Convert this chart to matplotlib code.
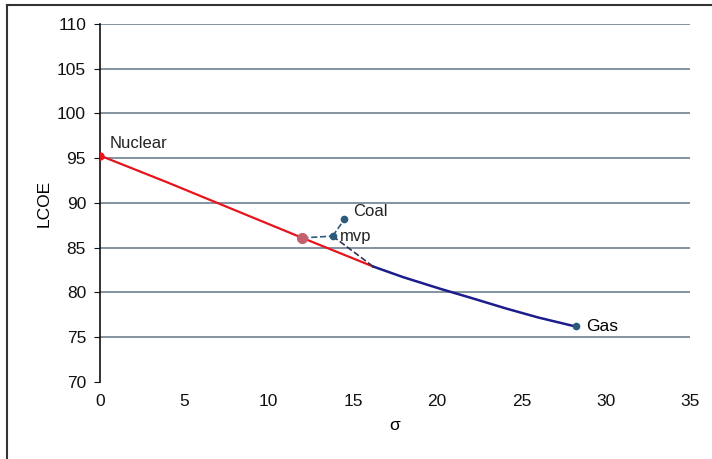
import matplotlib
matplotlib.use("Agg")
import matplotlib.pyplot as plt
from matplotlib.lines import Line2D

plt.rcParams['font.family'] = ['Liberation Sans', 'DejaVu Sans']

# frontier segment with nuclear in the mix (red) and the gas-heavy part (blue)
red_sigma = [0.0, 4.0, 8.0, 12.0, 16.2]
red_lcoe = [95.3, 92.3, 89.2, 86.1, 82.9]
blue_sigma = [16.2, 18.0, 20.2, 22.0, 24.1, 26.0, 28.2]
blue_lcoe = [82.9, 81.7, 80.4, 79.4, 78.2, 77.2, 76.2]

# single technologies and portfolio points
nuclear = (0.0, 95.3)
coal = (14.5, 88.2)
gas = (28.2, 76.2)
mvp = (13.8, 86.3)
current_mix = (12.0, 86.1)
frontier_join = (16.2, 82.9)

y_ticks = [70, 75, 80, 85, 90, 95, 100, 105, 110]
x_ticks = [0, 5, 10, 15, 20, 25, 30, 35]

fig = plt.figure(figsize=(7.12, 4.59), dpi=100)
ax = fig.add_axes([0.1404, 0.1678, 0.829, 0.7799])

grid_c = '#7a8a98'
for y in y_ticks[1:]:
    ax.axhline(y, color=grid_c, lw=1.3, zorder=0)

dash_c = '#2e5d80'
ax.plot([current_mix[0], mvp[0]], [current_mix[1], mvp[1]], ls='--', color=dash_c, lw=1.2, zorder=2)
ax.plot([mvp[0], coal[0]], [mvp[1], coal[1]], ls='--', color=dash_c, lw=1.2, zorder=2)
ax.plot([mvp[0], frontier_join[0]], [mvp[1], frontier_join[1]], ls='--', color='#333355', lw=1.2, zorder=4)

ax.plot(red_sigma, red_lcoe, color='#e8141c', lw=1.6, zorder=3)
ax.plot(blue_sigma, blue_lcoe, color='#1c1c8c', lw=1.8, zorder=3)

ax.plot(*nuclear, 'o', color='#e8141c', ms=5, zorder=5)
ax.plot(*current_mix, 'o', color='#c4606c', ms=7, zorder=5)
for p in (mvp, coal, gas):
    ax.plot(*p, 'o', color='#2a5a7c', ms=4.5, zorder=5)

ax.text(nuclear[0] + 0.55, nuclear[1] + 1.3, 'Nuclear', fontsize=12, va='center', color='#222222')
ax.text(coal[0] + 0.5, coal[1] + 0.8, 'Coal', fontsize=12, va='center', color='#222222')
ax.text(mvp[0] + 0.45, mvp[1], 'mvp', fontsize=12, va='center', color='#222222')
ax.text(gas[0] + 0.6, gas[1], 'Gas', fontsize=12.5, va='center', color='#000000')

ax.set_xlim(0, 35)
ax.set_ylim(70, 110)
ax.set_xticks(x_ticks)
ax.set_yticks(y_ticks)
ax.tick_params(axis='both', labelsize=12.5, colors='#111111')
ax.tick_params(axis='x', length=0, pad=9)
ax.tick_params(axis='y', length=4, direction='out', pad=6)
for side in ('top', 'right', 'bottom'):
    ax.spines[side].set_visible(False)
ax.spines['left'].set_color('#111111')
ax.spines['left'].set_linewidth(1.2)

ax.set_xlabel('σ', fontsize=12.5, labelpad=6)
ax.set_ylabel('LCOE', fontsize=12.5, labelpad=4)

# frame lines along the top and left of the figure
fig.add_artist(Line2D([7 / 712, 1.0], [1 - 5 / 459, 1 - 5 / 459], color='#333333', lw=1.5, transform=fig.transFigure))
fig.add_artist(Line2D([7 / 712, 7 / 712], [0.0, 1 - 5 / 459], color='#333333', lw=1.5, transform=fig.transFigure))

fig.savefig('out.png', dpi=100)
